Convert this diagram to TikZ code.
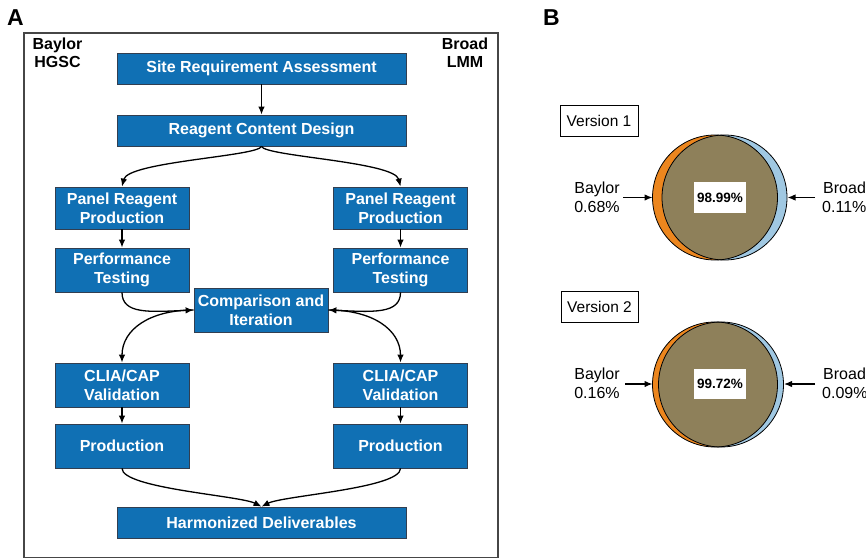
\documentclass[tikz,border=0pt]{standalone}
\usepackage{fontspec}
\setmainfont{Liberation Sans}
\usetikzlibrary{arrows.meta}
\definecolor{boxblue}{RGB}{16,112,180}
\definecolor{boxedge}{RGB}{50,62,80}
\definecolor{framegray}{RGB}{70,70,70}
\definecolor{vorange}{RGB}{236,134,30}
\definecolor{vblue}{RGB}{160,200,226}
\definecolor{vbrown}{RGB}{142,128,90}
\begin{document}
\begin{tikzpicture}[x=1pt,y=-1pt,
  stepbox/.style={draw=boxedge, line width=0.8pt, fill=boxblue, text=white,
    font=\fontsize{16}{19}\selectfont\bfseries, align=center, inner sep=0pt},
  wide/.style={stepbox, minimum width=289, minimum height=31},
  narrow/.style={stepbox, minimum width=134, minimum height=43},
  flow/.style={-{Latex[length=8pt,width=6.5pt]}, line width=1.3pt, black},
  corner/.style={font=\fontsize{16}{19}\selectfont\bfseries, anchor=base, inner sep=0pt},
  panel/.style={font=\fontsize{23}{23}\selectfont\bfseries, anchor=base west, inner sep=0pt},
  verbox/.style={draw=black, line width=0.8pt, fill=white, font=\fontsize{15.5}{18}\selectfont,
    minimum width=78, minimum height=31, inner sep=0pt},
  pctbox/.style={fill=white, font=\fontsize{13.5}{16}\selectfont\bfseries,
    minimum width=52, minimum height=31, inner sep=0pt},
  lbl/.style={font=\fontsize{16}{19}\selectfont, inner sep=0pt},
  ring/.style={draw=black, line width=0.8pt}
]
\useasboundingbox (0,0) rectangle (866,559);

% ---------- Panel A ----------
\node[panel] (lA) at (7,26) {A};
\draw[line width=1.1pt, draw=framegray] (24,33) rectangle (498,557.5);
\node[corner] (bay1) at (57.5,50) {Baylor};
\node[corner] (bay2) at (57.5,68) {HGSC};
\node[corner] (bro1) at (465,50) {Broad};
\node[corner] (bro2) at (465,68) {LMM};

\node[wide] (site) at (261.5,68.5) {Site Requirement Assessment};
\node[wide] (reag) at (261.5,130.5) {Reagent Content Design};
\node[narrow, minimum height=42] (panL) at (122,208) {Panel Reagent\\Production};
\node[narrow, minimum height=42] (panR) at (400.5,208) {Panel Reagent\\Production};
\node[narrow, minimum height=44] (perL) at (122,270) {Performance\\Testing};
\node[narrow, minimum height=44] (perR) at (400.5,270) {Performance\\Testing};
\node[narrow, minimum height=44] (comp) at (261,310) {Comparison and\\Iteration};
\node[narrow, minimum height=44] (cliL) at (122,385) {CLIA/CAP\\Validation};
\node[narrow, minimum height=44] (cliR) at (400.5,385) {CLIA/CAP\\Validation};
\node[narrow, minimum height=44] (proL) at (122,446) {Production};
\node[narrow, minimum height=44] (proR) at (400.5,446) {Production};
\node[wide] (harm) at (261.5,522.5) {Harmonized Deliverables};

\draw[flow] (site) -- (reag);
\draw[flow] (reag.south) .. controls +(-3.5,10) and +(6,-25) .. (panL.north);
\draw[flow] (reag.south) .. controls +(3.5,10) and +(-6,-25) .. (panR.north);
\draw[flow] (panL) -- (perL);
\draw[flow] (panR) -- (perR);
\draw[flow] (perL.south) .. controls +(0,22) and +(-44,2) .. (comp.west);
\draw[flow] (perR.south) .. controls +(0,22) and +(44,2) .. (comp.east);
\draw[flow] (comp.west) .. controls +(-44,0) and +(0,-33) .. (cliL.north);
\draw[flow] (comp.east) .. controls +(44,0) and +(0,-33) .. (cliR.north);
\draw[flow] (cliL) -- (proL);
\draw[flow] (cliR) -- (proR);
\draw[flow] (proL.south) .. controls +(0,20) and +(-21.5,-11) .. (harm.north);
\draw[flow] (proR.south) .. controls +(0,20) and +(21.5,-11) .. (harm.north);

% ---------- Panel B ----------
\node[panel] (lB) at (543,26) {B};

% Version 1
\node[verbox] (ver1) at (599,120.5) {Version 1};
\fill[vorange] (715,197.5) circle (62.5);
\fill[vblue] (724.5,197.5) circle (62.5);
\begin{scope}
  \clip (715,197.5) circle (62.5);
  \fill[vbrown] (724.5,197.5) circle (62.5);
\end{scope}
\draw[ring] (715,197.5) circle (62.5);
\draw[ring] (724.5,197.5) circle (62.5);
\node[pctbox] (pct1) at (720,197.5) {98.99\%};
\node[lbl, anchor=base] (bl1) at (597,193) {Baylor};
\node[lbl, anchor=base] (bp1) at (597,212) {0.68\%};
\node[lbl, anchor=base west] (rl1) at (823,193) {Broad};
\node[lbl, anchor=base west] (rp1) at (822,212) {0.11\%};
\coordinate (ba1) at (623,197.5);
\coordinate (bt1) at (652.5,197.5);
\coordinate (ra1) at (815,197.5);
\coordinate (rt1) at (787.5,197.5);
\draw[flow] (ba1) -- (bt1);
\draw[flow] (ra1) -- (rt1);

% Version 2
\node[verbox, minimum width=77] (ver2) at (599.5,306.5) {Version 2};
\fill[vorange] (715,384.5) circle (62.5);
\fill[vblue] (721,384.5) circle (62.5);
\begin{scope}
  \clip (715,384.5) circle (62.5);
  \fill[vbrown] (721,384.5) circle (62.5);
\end{scope}
\draw[ring] (715,384.5) circle (62.5);
\draw[ring] (721,384.5) circle (62.5);
\node[pctbox, minimum height=30] (pct2) at (720,384) {99.72\%};
\node[lbl, anchor=base] (bl2) at (597,379) {Baylor};
\node[lbl, anchor=base] (bp2) at (597,398) {0.16\%};
\node[lbl, anchor=base west] (rl2) at (823,379) {Broad};
\node[lbl, anchor=base west] (rp2) at (822,398) {0.09\%};
\coordinate (ba2) at (625,384);
\coordinate (bt2) at (652.5,384);
\coordinate (ra2) at (815,384);
\coordinate (rt2) at (784,384);
\draw[flow] (ba2) -- (bt2);
\draw[flow] (ra2) -- (rt2);
\end{tikzpicture}
\end{document}
